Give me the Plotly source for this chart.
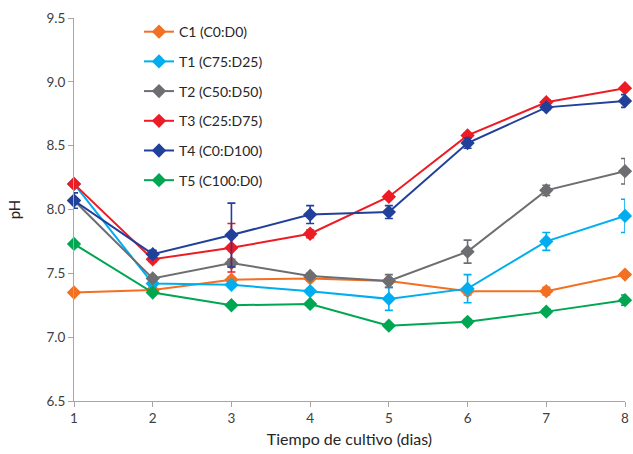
import plotly.graph_objects as go

days = [1, 2, 3, 4, 5, 6, 7, 8]
series_names = ["C1 (C0:D0)", "T1 (C75:D25)", "T2 (C50:D50)", "T3 (C25:D75)", "T4 (C0:D100)", "T5 (C100:D0)"]
c1 = [7.35, 7.37, 7.45, 7.46, 7.44, 7.36, 7.36, 7.49]
t1 = [8.20, 7.42, 7.41, 7.36, 7.30, 7.38, 7.75, 7.95]
t2 = [8.07, 7.46, 7.58, 7.48, 7.44, 7.67, 8.15, 8.30]
t3 = [8.20, 7.61, 7.70, 7.81, 8.10, 8.58, 8.84, 8.95]
t4 = [8.07, 7.65, 7.80, 7.96, 7.98, 8.52, 8.80, 8.85]
t5 = [7.73, 7.35, 7.25, 7.26, 7.09, 7.12, 7.20, 7.29]
c1_err = [0.01, 0.01, 0.02, 0.02, 0.02, 0.03, 0.03, 0.01]
t1_err = [0.01, 0.02, 0.02, 0.02, 0.09, 0.11, 0.07, 0.13]
t2_err = [0.01, 0.02, 0.03, 0.02, 0.05, 0.09, 0.04, 0.10]
t3_err = [0.01, 0.02, 0.19, 0.03, 0.02, 0.02, 0.02, 0.01]
t4_err = [0.06, 0.03, 0.25, 0.07, 0.05, 0.04, 0.02, 0.05]
t5_err = [0.01, 0.01, 0.01, 0.01, 0.01, 0.02, 0.02, 0.04]
colors = ["#F36F21", "#00AEEF", "#6D6E71", "#ED1C24", "#21409A", "#00A651"]

values = [c1, t1, t2, t3, t4, t5]
errors = [c1_err, t1_err, t2_err, t3_err, t4_err, t5_err]

fig = go.Figure()
for i, (name, vals, errs, col) in enumerate(zip(series_names, values, errors, colors)):
    fig.add_trace(go.Scatter(
        x=days, y=vals, name=name, mode="lines+markers",
        line=dict(color=col, width=2),
        marker=dict(symbol="diamond", size=11, color=col),
        error_y=dict(type="data", array=errs, visible=True, color=col, thickness=1.6, width=4),
        legendgroup=f"g{i}",
        cliponaxis=False,
    ))

font_family = "Lato, Open Sans, sans-serif"
fig.update_layout(
    width=633, height=454,
    margin=dict(l=74, r=8, t=18, b=53),
    paper_bgcolor="white", plot_bgcolor="white",
    font=dict(family=font_family, size=13, color="#404040"),
    legend=dict(x=0.118, y=1.005, xanchor="left", yanchor="top",
                bgcolor="rgba(0,0,0,0)", tracegroupgap=8.5,
                font=dict(size=14, color="#262626")),
    xaxis=dict(range=[1, 8], tickmode="array", tickvals=days, ticktext=[str(d) for d in days],
               automargin=False,
               showgrid=False, zeroline=False, showline=True, linecolor="#A6A6A6", linewidth=1,
               ticks="outside", ticklen=5, tickcolor="#A6A6A6",
               tickfont=dict(size=13.5, color="#404040"),
               title=dict(text="Tiempo de cultivo (dias)", font=dict(size=16, color="#262626"), standoff=8)),
    yaxis=dict(range=[6.5, 9.5], dtick=0.5, tickformat=".1f", automargin=False,
               showgrid=False, zeroline=False, showline=True, linecolor="#A6A6A6", linewidth=1,
               ticks="outside", ticklen=5, tickcolor="#A6A6A6",
               tickfont=dict(size=13.5, color="#404040"),
               title=dict(text="pH", font=dict(size=15, color="#262626"), standoff=22)),
)

fig.write_html("out.html")
